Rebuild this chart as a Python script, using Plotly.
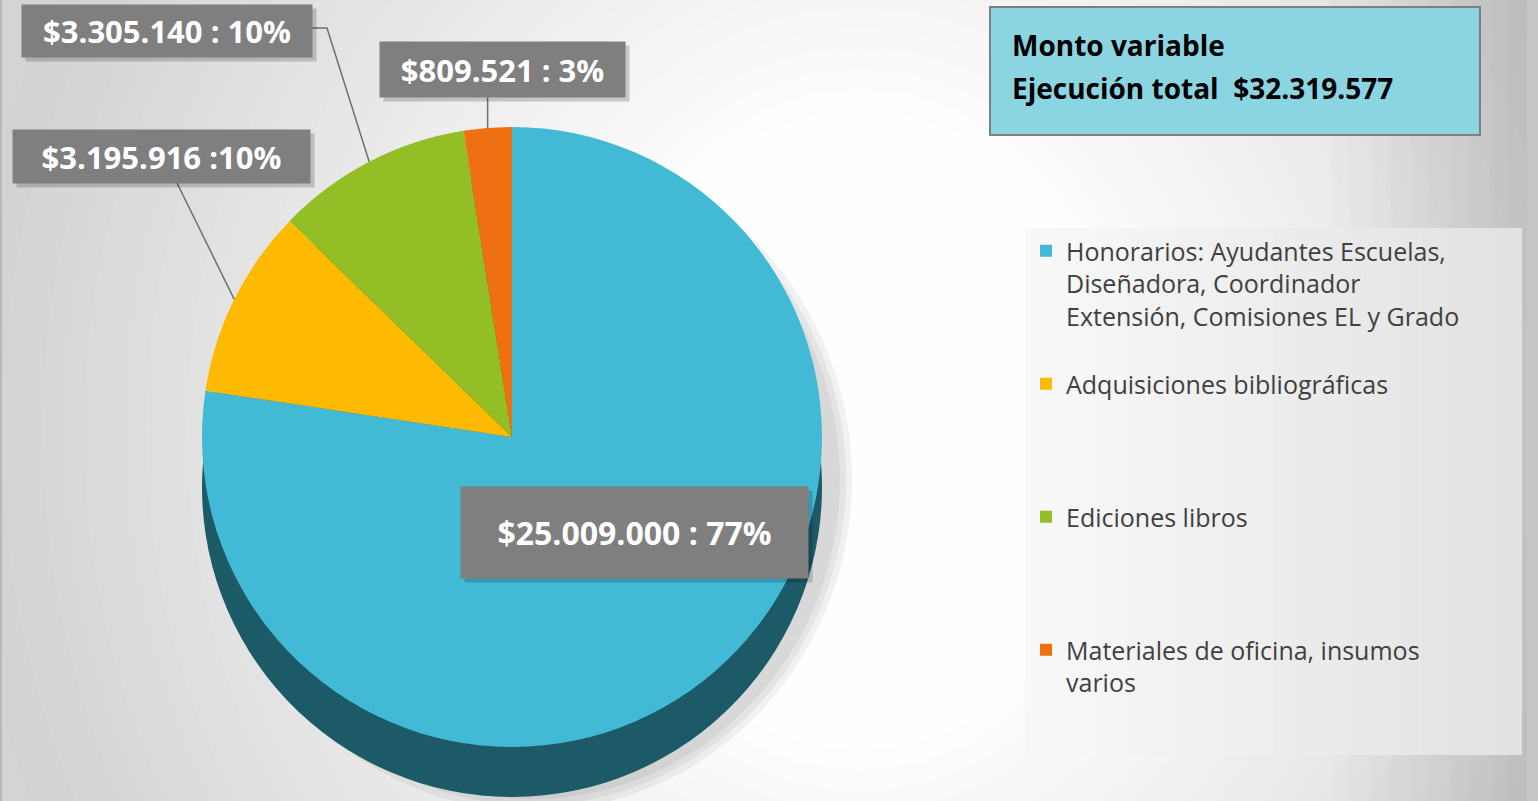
import math
import plotly.graph_objects as go

# ---------------- data ----------------
categories = [
    "Honorarios: Ayudantes Escuelas,<br>Diseñadora, Coordinador<br>Extensión, Comisiones EL y Grado",
    "Adquisiciones bibliográficas",
    "Ediciones libros",
    "Materiales de oficina, insumos<br>varios",
]
amounts = [25009000, 3195916, 3305140, 809521]
label_texts = ["$25.009.000 : 77%", "$3.195.916 :10%", "$3.305.140 : 10%", "$809.521 : 3%"]
title_lines = ["Monto variable", "Ejecución total  $32.319.577"]

top_colors = ["#42BAD6", "#FDBA00", "#93BE25", "#EE7013"]
side_colors = ["#1D5A67", "#9C7400", "#5B7A15", "#94450B"]

# ---------------- geometry / layout helpers ----------------
W, H = 1538, 801
CX, CY, R = 512, 437, 310
DEPTH = 50
FONT = "Open Sans"


def px(x):
    return x / W


def py(y):
    return 1 - y / H


# pad legend entries so that they are spread like the original
def pad(label, lines=4):
    n = label.count("<br>") + 1
    return label + "<br> " * max(0, lines - n)


legend_labels = [pad(c) for c in categories]

fig = go.Figure()

# extrusion (side) of the pie
fig.add_trace(go.Pie(
    values=amounts,
    labels=["side " + str(i) for i in range(len(amounts))],
    sort=False, direction="clockwise", rotation=0,
    textinfo="none", hoverinfo="skip", showlegend=False,
    marker=dict(colors=side_colors, line=dict(width=0)),
    domain=dict(x=[px(CX - R), px(CX + R)], y=[py(CY + DEPTH + R), py(CY + DEPTH - R)]),
))

# top face
fig.add_trace(go.Pie(
    values=amounts,
    labels=legend_labels,
    sort=False, direction="clockwise", rotation=0,
    textinfo="none", hoverinfo="value+percent",
    marker=dict(colors=top_colors, line=dict(width=0)),
    domain=dict(x=[px(CX - R), px(CX + R)], y=[py(CY + R), py(CY - R)]),
))

shapes = []
# background: soft radial gradient (decoration)
N_BG = 32
GX, GY = 860, 430
for k in range(N_BG):
    t = k / (N_BG - 1)
    lev = round(210 + (254 - 210) * t)
    rx = 900 - (900 - 260) * t
    ry = 950 - (950 - 320) * t
    shapes.append(dict(type="circle", xref="paper", yref="paper", layer="below",
                       x0=px(GX - rx), x1=px(GX + rx), y0=py(GY + ry), y1=py(GY - ry),
                       fillcolor=f"rgb({lev},{lev},{lev})", line=dict(width=0)))
# darker right edge
N_R = 10
for k in range(N_R):
    x0 = 1330 + k * 20
    shapes.append(dict(type="rect", xref="paper", yref="paper", layer="below",
                       x0=px(x0), x1=1, y0=0, y1=1,
                       fillcolor="rgba(0,0,0,0.012)", line=dict(width=0)))
shapes.append(dict(type="rect", xref="paper", yref="paper", layer="below",
                   x0=px(1527), x1=1, y0=0, y1=1, fillcolor="#c6c6c6", line=dict(width=0)))
shapes.append(dict(type="rect", xref="paper", yref="paper", layer="below",
                   x0=0, x1=px(2), y0=0, y1=1, fillcolor="#b8b8b8", line=dict(width=0)))
# pie shadow
for k, a in enumerate([0.05, 0.05, 0.05]):
    shapes.append(dict(type="circle", xref="paper", yref="paper", layer="below",
                       x0=px(CX - R + 10 + 6 * k), x1=px(CX + R + 30 - 6 * k),
                       y0=py(CY + DEPTH + R + 14 - 6 * k), y1=py(CY - R + 20 + 6 * k),
                       fillcolor=f"rgba(0,0,0,{a})", line=dict(width=0)))
# legend box (light horizontal gradient)
N_L = 20
LX0, LX1 = 1025, 1522
for k in range(N_L):
    t = k / (N_L - 1)
    lev = round(248 - (248 - 226) * t)
    shapes.append(dict(type="rect", xref="paper", yref="paper", layer="below",
                       x0=px(LX0 + (LX1 - LX0) * k / N_L), x1=px(LX1), y0=py(755), y1=py(228),
                       fillcolor=f"rgb({lev},{lev},{lev})", line=dict(width=0)))
# title box
shapes.append(dict(type="rect", xref="paper", yref="paper", layer="below",
                   x0=px(990), x1=px(1480), y0=py(135), y1=py(7),
                   fillcolor="#8BD5E3", line=dict(color="#7f7f7f", width=2)))

# leader lines: end at the middle of each slice's outer edge (computed from the data)
total = sum(amounts)
cum = 0
mids = []
for v in amounts:
    mids.append(2 * math.pi * (cum + v / 2) / total)
    cum += v


def edge(i):
    a = mids[i]
    return CX + R * math.sin(a), CY - R * math.cos(a)


starts = {1: [(177, 183)], 2: [(312, 28), (327, 28)], 3: None}
for i, pts in starts.items():
    ex, ey = edge(i)
    if pts is None:
        pts = [(ex, 97)]
    path = "M " + " L ".join(f"{px(x)},{py(y)}" for x, y in pts + [(ex, ey)])
    shapes.append(dict(type="path", xref="paper", yref="paper", path=path,
                       line=dict(color="#6f6f6f", width=1.5)))

annotations = []
boxes = {  # slice index -> (x0, x1, y0, y1, font size)
    0: (461, 808, 487, 578, 32),
    1: (13, 310, 130, 183, 31),
    2: (22, 312, 5, 57, 31),
    3: (380, 625, 42, 97, 31),
}
for i, (x0, x1, y0, y1, fs) in boxes.items():
    # shadow
    annotations.append(dict(xref="paper", yref="paper", x=px((x0 + x1) / 2 + 4), y=py((y0 + y1) / 2 + 4),
                            xanchor="center", yanchor="middle",
                            text=" ", showarrow=False, width=x1 - x0, height=y1 - y0,
                            bgcolor="rgba(0,0,0,0.18)", borderpad=0))
    annotations.append(dict(xref="paper", yref="paper", x=px((x0 + x1) / 2), y=py((y0 + y1) / 2),
                            xanchor="center", yanchor="middle",
                            text=f"<b>{label_texts[i]}</b>", showarrow=False,
                            width=x1 - x0, height=y1 - y0, bgcolor="#7f7f7f", borderpad=0,
                            font=dict(family=FONT, size=fs, color="white")))

annotations.append(dict(xref="paper", yref="paper", x=px(1010), y=py(45), xanchor="left", yanchor="middle",
                        text=f"<b>{title_lines[0]}</b>", showarrow=False,
                        font=dict(family=FONT, size=28, color="black")))
annotations.append(dict(xref="paper", yref="paper", x=px(1010), y=py(88), xanchor="left", yanchor="middle",
                        text=f"<b>{title_lines[1]}</b>", showarrow=False,
                        font=dict(family=FONT, size=28, color="black")))

fig.update_layout(
    width=W, height=H,
    margin=dict(l=0, r=0, t=0, b=0, pad=0),
    paper_bgcolor="#d4d4d4",
    plot_bgcolor="rgba(0,0,0,0)",
    shapes=shapes,
    annotations=annotations,
    legend=dict(x=px(1026), y=py(228), xanchor="left", yanchor="top",
                bgcolor="rgba(0,0,0,0)", valign="top",
                font=dict(family=FONT, size=25, color="#404040")),
    font=dict(family=FONT),
)

fig.write_html("out.html", config={"displayModeBar": False},
               post_script="document.body.style.margin='0';document.body.style.overflow='hidden';")
